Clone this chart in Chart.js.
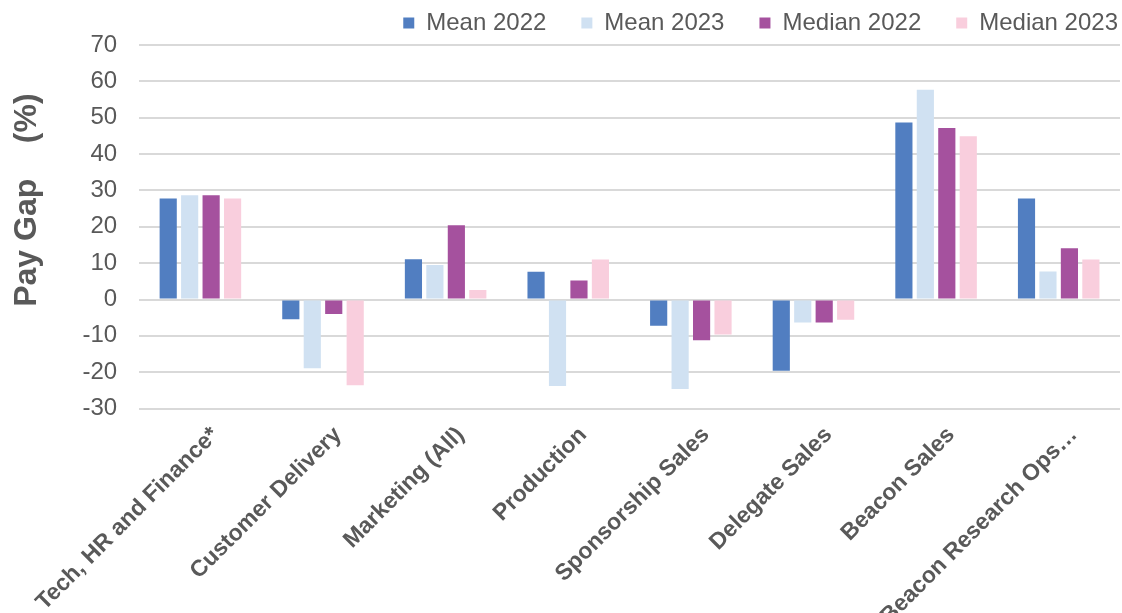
<!DOCTYPE html>
<html>
<head>
<meta charset="utf-8">
<script src="https://cdn.jsdelivr.net/npm/chart.js@4/dist/chart.umd.min.js"></script>
<style>
  html, body { margin: 0; padding: 0; background: #fff; }
  #wrap { width: 1122px; height: 613px; position: relative; }
</style>
</head>
<body>
<div id="wrap"><canvas id="c"></canvas></div>
<script>
const categories = ['Tech, HR and Finance*', 'Customer Delivery', 'Marketing (All)', 'Production', 'Sponsorship Sales', 'Delegate Sales', 'Beacon Sales', 'Beacon Research Ops…'];
const mean2022   = [27.8, -5.4, 11.1, 7.6, -7.2, -19.6, 48.7, 27.8];
const mean2023   = [28.7, -18.9, 9.5, -23.8, -24.6, -6.3, 57.7, 7.7];
const median2022 = [28.7, -4.0, 20.4, 5.2, -11.2, -6.3, 47.2, 14.1];
const median2023 = [27.8, -23.6, 2.6, 11.0, -9.6, -5.6, 44.9, 11.0];
const seriesNames = ['Mean 2022', 'Mean 2023', 'Median 2022', 'Median 2023'];
const yTicks = [-30, -20, -10, 0, 10, 20, 30, 40, 50, 60, 70];
const yTitle = '      Pay Gap    (%)';

const colors = ['#517EC1', '#D0E1F2', '#A5519E', '#F9CEDD'];
const FONT = "'Liberation Sans', Arial, sans-serif";
const GREY = '#595959';

const legendShift = {
  id: 'legendShift',
  afterLayout(chart) {
    const l = chart.legend;
    if (l) { l.left += 33; l.right += 33; }
  }
};

new Chart(document.getElementById('c'), {
  type: 'bar',
  data: {
    labels: categories,
    datasets: [mean2022, mean2023, median2022, median2023].map((d, i) => ({
      label: seriesNames[i],
      data: d,
      backgroundColor: colors[i],
      borderWidth: 0,
      categoryPercentage: 0.7,
      barPercentage: 0.8
    }))
  },
  plugins: [legendShift],
  options: {
    responsive: true,
    maintainAspectRatio: false,
    animation: false,
    layout: { padding: { left: 8, right: 2, top: -24, bottom: -30 } },
    plugins: {
      tooltip: { enabled: false },
      legend: {
        position: 'top',
        align: 'end',
        labels: {
          font: { family: FONT, size: 24 },
          color: GREY,
          boxWidth: 11,
          boxHeight: 11,
          padding: 35
        }
      }
    },
    scales: {
      x: {
        grid: { display: false, drawTicks: false },
        border: { display: false },
        ticks: {
          autoSkip: false,
          maxRotation: 45,
          minRotation: 45,
          padding: 13,
          labelOffset: 15,
          color: GREY,
          font: { family: FONT, size: 23, weight: 'bold' }
        }
      },
      y: {
        min: -30,
        max: 70,
        afterBuildTicks: (axis) => { axis.ticks = yTicks.map(v => ({ value: v })); },
        grid: { color: '#D9D9D9', lineWidth: 2, drawTicks: false },
        border: { display: false },
        ticks: {
          padding: 22,
          color: GREY,
          font: { family: FONT, size: 24 }
        },
        title: {
          display: true,
          text: yTitle,
          color: GREY,
          padding: { top: 0, bottom: 14 },
          font: { family: FONT, size: 32, weight: 'bold' }
        }
      }
    }
  }
});
</script>
</body>
</html>
